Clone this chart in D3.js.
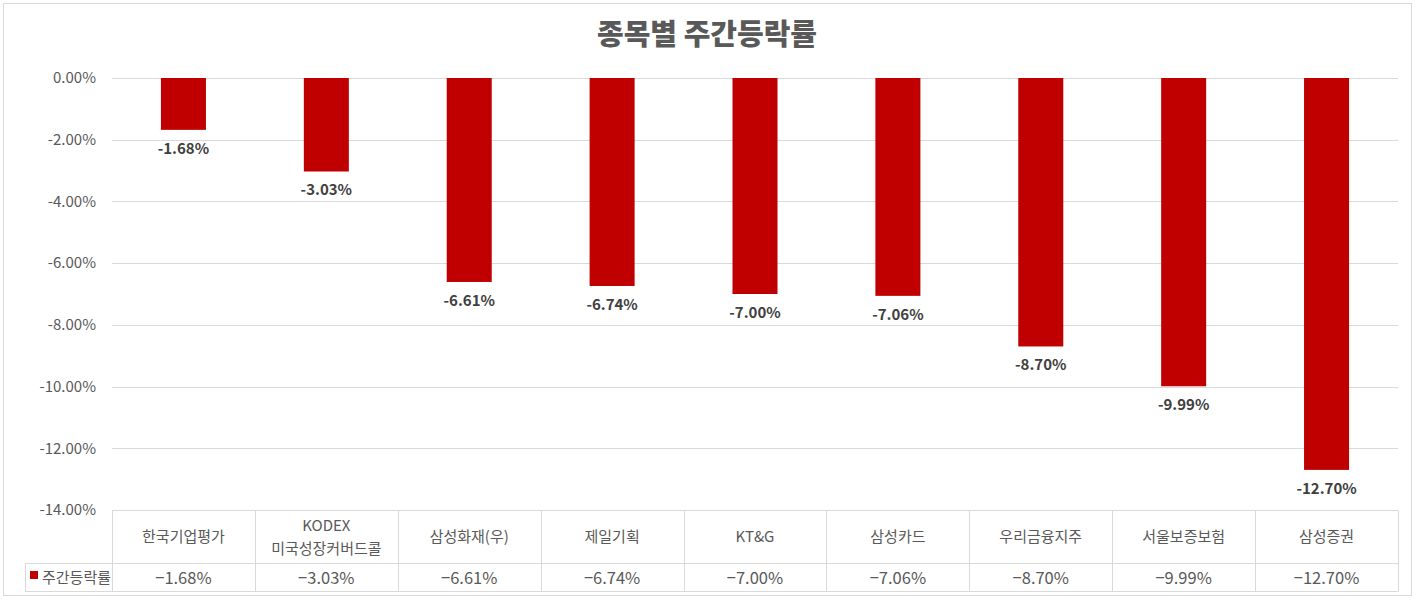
<!DOCTYPE html>
<html><head><meta charset="utf-8">
<script src="https://cdn.jsdelivr.net/npm/d3@7"></script>
<style>body{margin:0;background:#fff;} svg{display:block;}</style>
</head><body>
<svg id="c" width="1417" height="602"></svg>
<script>
const title = "종목별 주간등락률";
const seriesName = "주간등락률";
const categories = [["한국기업평가"],["KODEX","미국성장커버드콜"],["삼성화재(우)"],["제일기획"],["KT&G"],["삼성카드"],["우리금융지주"],["서울보증보험"],["삼성증권"]];
const values = [-1.68,-3.03,-6.61,-6.74,-7.00,-7.06,-8.70,-9.99,-12.70];
const yTicks = [0,-2,-4,-6,-8,-10,-12,-14];

const svg = d3.select("#c");
const font = "'Noto Sans CJK KR','Noto Sans',sans-serif";
const pLeft = 112, pRight = 1398, pTop = 78, pBottom = 510;
const x = d3.scaleBand().domain(d3.range(values.length)).range([pLeft,pRight]).paddingInner(0.685).paddingOuter(0.3425);
const xb = d3.scaleBand().domain(d3.range(values.length)).range([pLeft,pRight]);
const y = d3.scaleLinear().domain([0,-14]).range([pTop,pBottom]);
const fmt = v => v.toFixed(2) + "%";

// outer chart border
svg.append("rect").attr("x",3.5).attr("y",3.5).attr("width",1408).attr("height",592)
  .attr("fill","#fff").attr("stroke","#d9d9d9").attr("stroke-width",1);

// title
svg.append("text").attr("x",707).attr("y",45).attr("text-anchor","middle")
  .attr("font-family",font).attr("font-weight",900).attr("font-size",29).attr("fill","#595959")
  .text(title);

// gridlines
svg.append("g").selectAll("line").data(yTicks).join("line")
  .attr("x1",pLeft).attr("x2",pRight).attr("y1",d=>Math.round(y(d))+0.5).attr("y2",d=>Math.round(y(d))+0.5)
  .attr("stroke","#d9d9d9").attr("stroke-width",1);

// y axis labels
const yAxis = d3.axisLeft(y).tickValues(yTicks).tickFormat(fmt).tickSize(0).tickPadding(16);
const ya = svg.append("g").attr("transform",`translate(${pLeft},0)`).call(yAxis);
ya.select(".domain").remove();
ya.selectAll("text").attr("font-family",font).attr("font-size",15).attr("fill","#595959");

// bars
svg.append("g").selectAll("rect").data(values).join("rect")
  .attr("x",(d,i)=>x(i)).attr("width",x.bandwidth())
  .attr("y",y(0)).attr("height",d=>y(d)-y(0)).attr("fill","#c00000");

// data labels
svg.append("g").selectAll("text").data(values).join("text")
  .attr("x",(d,i)=>x(i)+x.bandwidth()/2).attr("y",d=>y(d)+24)
  .attr("text-anchor","middle").attr("font-family",font).attr("font-weight",700)
  .attr("font-size",15).attr("fill","#404040").text(fmt);

// data table
const tTop = 510.5, tMid = 563.5, tBot = 591.5;
const tg = svg.append("g").attr("stroke","#d9d9d9").attr("stroke-width",1).attr("fill","none");
tg.append("line").attr("x1",pLeft).attr("x2",pRight).attr("y1",tTop).attr("y2",tTop);
tg.append("line").attr("x1",25).attr("x2",pRight).attr("y1",tMid).attr("y2",tMid);
tg.append("line").attr("x1",25).attr("x2",pRight).attr("y1",tBot).attr("y2",tBot);
tg.append("line").attr("x1",25.5).attr("x2",25.5).attr("y1",tMid).attr("y2",tBot);
tg.selectAll(".v").data(d3.range(values.length+1)).join("line")
  .attr("x1",i=>Math.round(pLeft + i*xb.step())+0.5).attr("x2",i=>Math.round(pLeft + i*xb.step())+0.5)
  .attr("y1",tTop).attr("y2",tBot);

// category labels
const cg = svg.append("g").attr("font-family",font).attr("font-size",15).attr("fill","#595959").attr("text-anchor","middle");
categories.forEach((lines,i)=>{
  const cx = xb(i)+xb.bandwidth()/2;
  const n = lines.length;
  lines.forEach((t,j)=>{
    cg.append("text").attr("x",cx).attr("y",(tTop+tMid)/2 + 5 + (j-(n-1)/2)*23).text(t);
  });
});
// values row
svg.append("g").selectAll("text").data(values).join("text")
  .attr("x",(d,i)=>xb(i)+xb.bandwidth()/2).attr("y",tBot-8)
  .attr("text-anchor","middle").attr("font-family",font).attr("font-size",16.5).attr("fill","#595959")
  .text(d=>fmt(d).replace("-","\u2212"));
// legend key
svg.append("rect").attr("x",30).attr("y",571).attr("width",8).attr("height",8).attr("fill","#c00000");
svg.append("text").attr("x",42).attr("y",583).attr("font-family",font).attr("font-size",15).attr("fill","#595959").text(seriesName);
</script>
</body></html>
